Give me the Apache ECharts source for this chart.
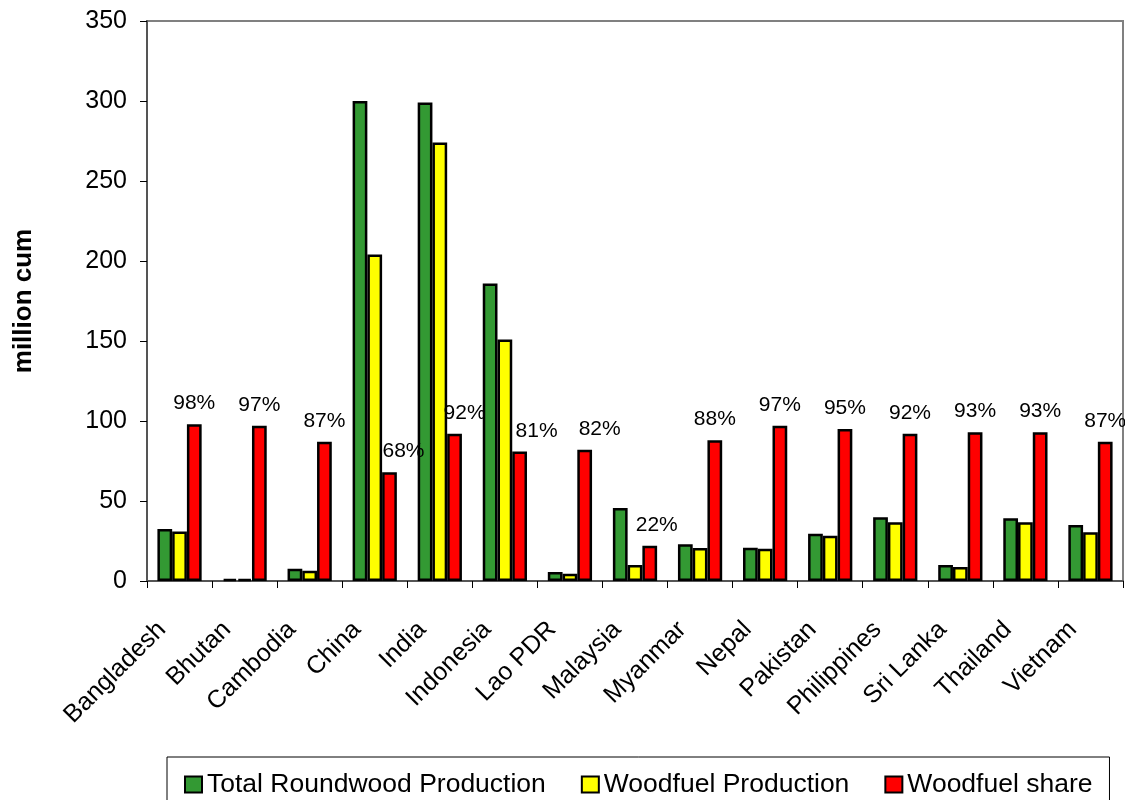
<!DOCTYPE html>
<html>
<head>
<meta charset="utf-8">
<script src="https://cdn.jsdelivr.net/npm/echarts@6/dist/echarts.min.js"></script>
<style>
html,body{margin:0;padding:0;background:#fff;}
#chart{width:1125px;height:800px;}
</style>
</head>
<body>
<div id="chart"></div>
<script>
const categories = ['Bangladesh','Bhutan','Cambodia','China','India','Indonesia','Lao PDR','Malaysia','Myanmar','Nepal','Pakistan','Philippines','Sri Lanka','Thailand','Vietnam'];
const totalRoundwood = [32.5, 1.4, 7.7, 300, 299, 186, 5.6, 45.6, 23, 20.8, 29.6, 39.8, 10, 39.2, 35];
const woodfuelProduction = [31, 1.3, 6.4, 204, 274, 151, 4.6, 10, 20.6, 20.2, 28.3, 36.7, 8.8, 36.7, 30.4];
const woodfuelShare = [98, 97, 87, 68, 92, 81, 82, 22, 88, 97, 95, 92, 93, 93, 87];
const yTicks = [0, 50, 100, 150, 200, 250, 300, 350];

// label nudges (style only) so percent labels sit like the reference
const labelNudgeX = [0, 0, 0, 14, 10, 17, 15, 7, 0, 0, 0, 0, 0, 0, 0];

const FONT = '"Liberation Sans", Arial, sans-serif';
const chart = echarts.init(document.getElementById('chart'));

const shareData = woodfuelShare.map((v, i) => ({
  value: v,
  label: { offset: [labelNudgeX[i], 0] }
}));

chart.setOption({
  animation: false,
  textStyle: { fontFamily: FONT },
  grid: {
    left: 147, right: 2, top: 21, bottom: 219,
    show: true, borderColor: '#808080', borderWidth: 2, backgroundColor: '#fff'
  },
  legend: {
    left: 167, top: 757,
    padding: [14, 17, 20, 17],
    borderColor: '#000', borderWidth: 1,
    icon: 'rect',
    itemWidth: 17, itemHeight: 16, itemGap: 35,
    itemStyle: { borderColor: '#000', borderWidth: 2 },
    textStyle: { fontSize: 26.5, color: '#000', fontFamily: FONT },
    data: ['Total Roundwood Production', 'Woodfuel Production', 'Woodfuel share']
  },
  xAxis: {
    type: 'category',
    data: categories,
    axisLine: { lineStyle: { color: '#555', width: 2 } },
    axisTick: { show: true, length: 7, lineStyle: { color: '#000' } },
    axisLabel: { rotate: 45, fontSize: 25, color: '#000', margin: 27, padding: [0, 25, 0, 0], fontFamily: FONT, interval: 0 }
  },
  yAxis: {
    type: 'value',
    min: yTicks[0], max: yTicks[yTicks.length - 1], interval: 50,
    name: 'million cum',
    nameLocation: 'middle',
    nameGap: 110,
    nameTextStyle: { fontSize: 26, fontWeight: 'bold', color: '#000', fontFamily: FONT },
    axisLine: { show: true, lineStyle: { color: '#555', width: 2 } },
    axisTick: { show: true, length: 7, lineStyle: { color: '#000' } },
    axisLabel: { fontSize: 25, color: '#000', margin: 20, fontFamily: FONT },
    splitLine: { show: false }
  },
  series: [
    {
      name: 'Total Roundwood Production', type: 'bar', data: totalRoundwood,
      barGap: '0%', barCategoryGap: '32%',
      itemStyle: { color: '#339933', borderColor: '#000', borderWidth: 2.5 }
    },
    {
      name: 'Woodfuel Production', type: 'bar', data: woodfuelProduction,
      barGap: '0%', barCategoryGap: '32%',
      itemStyle: { color: '#FFFF00', borderColor: '#000', borderWidth: 2.5 }
    },
    {
      name: 'Woodfuel share', type: 'bar', data: shareData,
      barGap: '0%', barCategoryGap: '32%',
      itemStyle: { color: '#FF0000', borderColor: '#000', borderWidth: 2.5 },
      label: {
        show: true, position: 'top', distance: 10,
        fontSize: 21, color: '#000', fontFamily: FONT,
        formatter: p => p.value + '%'
      }
    }
  ]
});
</script>
</body>
</html>
